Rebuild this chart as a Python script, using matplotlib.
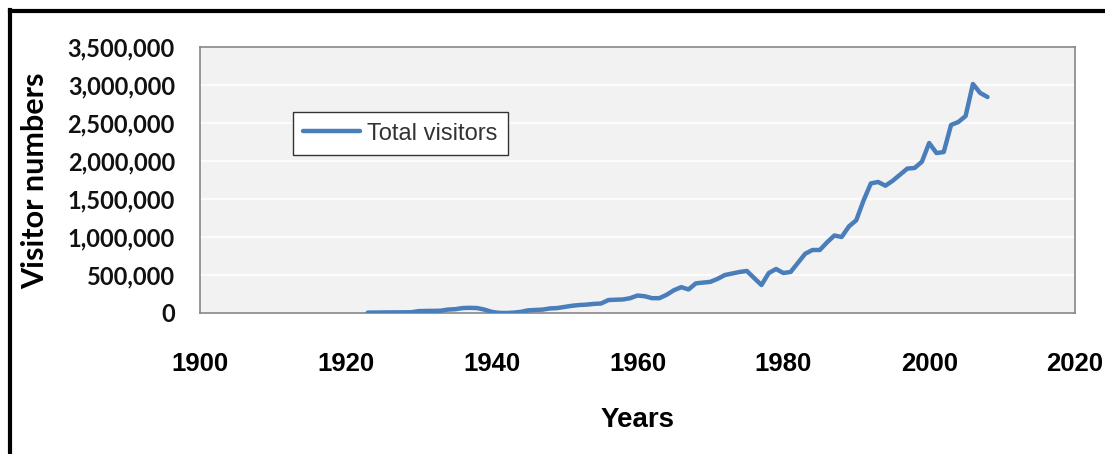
import matplotlib
matplotlib.use('Agg')
import matplotlib.pyplot as plt
from matplotlib.lines import Line2D
from matplotlib.ticker import FuncFormatter
import numpy as np

# visitor counts per year
years = list(range(1923, 2009))
visitors = [
    5000, 6000, 7000, 8000, 8000, 9000, 10000,            # 1923-1929
    25000, 27000, 28000, 30000, 45000, 50000, 65000,      # 1930-1936
    68000, 65000, 45000, 15000, 2000, 0, 5000,            # 1937-1943
    15000, 35000, 40000, 45000, 60000, 65000, 80000,      # 1944-1950
    95000, 105000, 110000, 120000, 125000, 170000,        # 1951-1956
    175000, 178000, 195000, 230000, 220000, 195000,       # 1957-1962
    195000, 240000, 300000, 340000, 310000, 390000,       # 1963-1968
    400000, 410000, 450000, 500000, 520000, 540000,       # 1969-1974
    553000, 460000, 368000, 526000, 579000, 526000,       # 1975-1980
    540000, 660000, 780000, 829000, 829000, 930000,       # 1981-1986
    1020000, 1000000, 1140000, 1220000, 1480000, 1705000, # 1987-1992
    1724000, 1675000, 1740000, 1820000, 1900000, 1908000, # 1993-1998
    1990000, 2237000, 2105000, 2118000, 2474000, 2513000, # 1999-2004
    2592000, 3013000, 2895000, 2842000,                   # 2005-2008
]
series_name = 'Total visitors'
x_ticks = [1900, 1920, 1940, 1960, 1980, 2000, 2020]
y_ticks = [0, 500000, 1000000, 1500000, 2000000, 2500000, 3000000, 3500000]

narrow = ['Liberation Sans', 'DejaVu Sans']
round_font = ['Lato', 'DejaVu Sans']

W, H = 1105, 454
fig = plt.figure(figsize=(W / 100, H / 100), dpi=100)
fig.patch.set_facecolor('white')

ax = fig.add_axes([200 / W, 1 - 313 / H, 875 / W, 266 / H])
ax.set_facecolor('#F2F2F2')

ax.plot(years, visitors, color='#4A7EBB', lw=3.2, solid_capstyle='round',
        solid_joinstyle='round', label=series_name, zorder=3)

ax.set_xlim(1900, 2020)
ax.set_ylim(0, 3500000)
ax.set_xticks(x_ticks)
ax.set_yticks(y_ticks)
ax.yaxis.set_major_formatter(FuncFormatter(lambda v, p: '{:,.0f}'.format(v)))

ax.grid(axis='y', color='white', lw=1.2, zorder=1)
ax.set_axisbelow(True)
for s in ax.spines.values():
    s.set_color('#868686')
    s.set_linewidth(1.2)

ax.tick_params(axis='both', length=0)
ax.tick_params(axis='x', pad=28)
ax.tick_params(axis='y', pad=18)
for t in ax.get_xticklabels():
    t.set_fontfamily(narrow)
    t.set_fontweight('bold')
    t.set_fontsize(18.5)
for t in ax.get_yticklabels():
    t.set_fontfamily(round_font)
    t.set_fontweight('bold')
    t.set_fontsize(17)
    t.set_color('#111111')

leg = ax.legend(loc='upper left', bbox_to_anchor=(0.106, 0.756),
                frameon=True, fancybox=False, borderaxespad=0,
                prop={'family': narrow, 'size': 17},
                handlelength=2.4, handletextpad=0.3, borderpad=0.45)
leg.get_frame().set_edgecolor('#333333')
leg.get_frame().set_linewidth(1.0)
leg.get_frame().set_alpha(1.0)
for t in leg.get_texts():
    t.set_color('#333333')

fig.text(35 / W, 1 - 181 / H, 'Visitor numbers', rotation=90, ha='center',
         va='center', fontsize=22, fontweight='bold', family=round_font)
fig.text(638 / W, 1 - 420 / H, 'Years', ha='center', va='center',
         fontsize=20, fontweight='bold', family=narrow)

# black frame on the top and left edges of the picture
fig.add_artist(Line2D([10 / W, 10 / W], [0, 1 - 10 / H], color='black', lw=3))
fig.add_artist(Line2D([10 / W, 1], [1 - 10.5 / H, 1 - 10.5 / H], color='black', lw=3))

fig.savefig('out.png', dpi=100)
